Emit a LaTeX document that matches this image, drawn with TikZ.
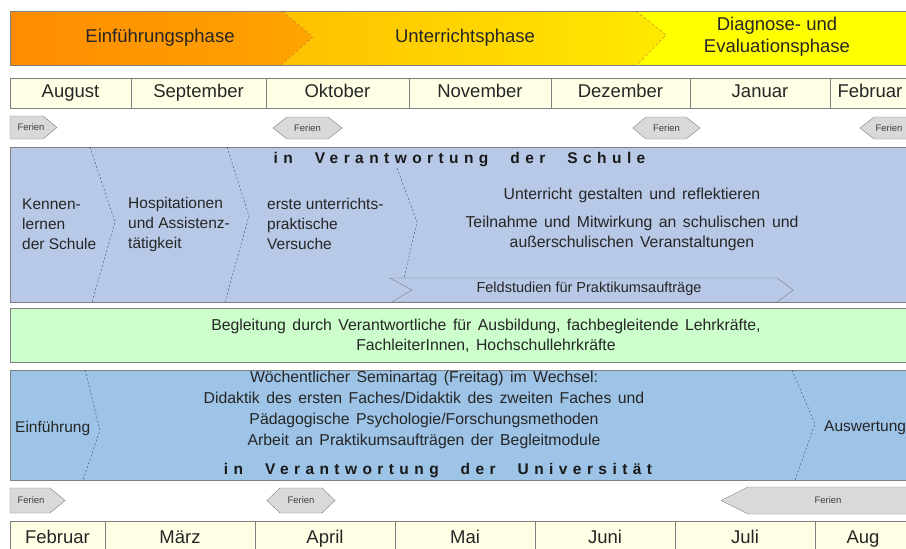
\documentclass[tikz,border=0pt]{standalone}
\usepackage{fontspec}
\setmainfont{Liberation Sans}
\newfontfamily\spacedfont[LetterSpace=35]{Liberation Sans}
\newcommand\widespacing{\spaceskip=6.5pt plus 2pt\relax}
\definecolor{monthfill}{HTML}{FFFFE6}
\definecolor{framegray}{HTML}{7F7F7F}
\definecolor{schoolblue}{HTML}{B7C9E6}
\definecolor{uniblue}{HTML}{9DC3E6}
\definecolor{guidegreen}{HTML}{CCFFCC}
\definecolor{tagfill}{HTML}{D9D9D9}
\definecolor{inktext}{HTML}{262626}
\definecolor{phaseA}{HTML}{FF8C00}
\definecolor{phaseB}{HTML}{FFA400}
\definecolor{phaseC}{HTML}{FFC000}
\definecolor{phaseM}{HTML}{FFB600}
\definecolor{phaseE}{HTML}{FFEA00}
\definecolor{phaseD}{HTML}{FFFF00}
\definecolor{chevbrown}{HTML}{B87818}
\definecolor{chevblue}{HTML}{3F4A66}
\begin{document}
\begin{tikzpicture}[x=1pt,y=-1pt,
	monthcell/.style={ draw=framegray, fill=monthfill, inner sep=0pt, text height=13.5pt, text depth=4pt, text=inktext, font=\fontsize{18.5}{22}\selectfont },
	phasetext/.style={ inner sep=0pt, text=inktext, font=\fontsize{18.5}{22}\selectfont },
	blocktext/.style={ inner sep=0pt, text=inktext, font=\fontsize{15.5}{20}\selectfont },
	widetext/.style={ inner sep=0pt, text=inktext, font=\fontsize{15.8}{20}\selectfont\widespacing },
	fieldtext/.style={ inner sep=0pt, text=inktext, font=\fontsize{14.5}{16}\selectfont },
	spacedtitle/.style={ inner sep=0pt, text=black!90, font=\fontsize{15.5}{17}\spacedfont\bfseries },
	tagshape/.style={ draw=framegray, fill=tagfill, thin },
	tagtext/.style={ inner sep=0pt, text=black!75, font=\fontsize{9.5}{11}\selectfont },
	phasedash/.style={ draw=chevbrown, thin, dash pattern=on 3pt off 2pt },
	chevdash/.style={ draw=chevblue, thin, dash pattern=on 2pt off 2pt }
]
\useasboundingbox (0,0) rectangle (906,549);

\shade[left color=phaseA, right color=phaseB] (10,11) -- (282,11) -- (313,37) -- (281,65) -- (10,65) -- cycle;
\shade[left color=phaseC, middle color=phaseM, right color=phaseE] (282,11) -- (636,11) -- (666,35) -- (637,65) -- (281,65) -- (313,37) -- cycle;
\fill[phaseD] (636,11) -- (920,11) -- (920,65) -- (637,65) -- (666,35) -- cycle;
\draw[framegray] (920,11) -- (10,11) -- (10,65) -- (920,65);
\draw[phasedash] (282,11) -- (313,37) -- (281,65);
\draw[phasedash] (636,11) -- (666,35) -- (637,65);
\node at (160,38) (einf) [phasetext] {Einführungsphase};
\node at (465,38) (unterr) [phasetext] {Unterrichtsphase};
\node at (777,37) (diag) [phasetext, align=center] {Diagnose- und\\Evaluationsphase};

\node at (70.5,93) (aug) [monthcell, minimum width=121, minimum height=30] {August};
\node at (198.5,93) (sep) [monthcell, minimum width=135, minimum height=30] {September};
\node at (337.5,93) (okt) [monthcell, minimum width=143, minimum height=30] {Oktober};
\node at (480,93) (nov) [monthcell, minimum width=142, minimum height=30] {November};
\node at (620.5,93) (dez) [monthcell, minimum width=139, minimum height=30] {Dezember};
\node at (760,93) (jan) [monthcell, minimum width=140, minimum height=30] {Januar};
\node at (870,93) (feb) [monthcell, minimum width=80, minimum height=30] {Februar};

\draw[tagshape] (10,116) -- (43,116) -- (57,127.5) -- (43,139) -- (10,139) -- cycle;
\node at (31,127.5) (ferA) [tagtext] {Ferien};
\draw[tagshape] (273,128) -- (287,117) -- (328,117) -- (342,128) -- (328,139) -- (287,139) -- cycle;
\node at (307.5,128) (ferB) [tagtext] {Ferien};
\draw[tagshape] (633,128) -- (646,117) -- (686,117) -- (700,128) -- (686,139) -- (646,139) -- cycle;
\node at (666.5,128) (ferC) [tagtext] {Ferien};
\draw[tagshape] (860,128) -- (874,117) -- (920,117) -- (934,128) -- (920,139) -- (874,139) -- cycle;
\node at (889,128) (ferD) [tagtext] {Ferien};

\draw[framegray, fill=schoolblue] (10,147) rectangle (920,302);
\draw[chevdash] (90,147) -- (115,222) -- (92,302);
\draw[chevdash] (227,147) -- (249,216) -- (225,302);
\draw[chevdash] (397,168) -- (417,222) -- (404,278);
\draw[framegray] (390,278) -- (777,278) -- (793,290) -- (777,302) -- (392,302) -- (412,290) -- cycle;
\node at (459.5,160) (schule) [spacedtitle] {in\hspace{22pt}Verantwortung\hspace{22pt}der\hspace{22pt}Schule};
\node at (22,224) (kennen) [blocktext, anchor=west, align=left] {Kennen-\\lernen\\der Schule};
\node at (128,224) (hosp) [blocktext, anchor=west, align=left] {Hospitationen\\und Assistenz-\\tätigkeit};
\node at (267,224) (versuch) [blocktext, anchor=west, align=left] {erste unterrichts-\\praktische\\Versuche};
\node at (632,195) (gestalt) [widetext] {Unterricht gestalten und reflektieren};
\node at (632,233) (teilnahme) [widetext, align=center] {Teilnahme und Mitwirkung an schulischen und\\außerschulischen Veranstaltungen};
\node at (589,289) (feld) [fieldtext] {Feldstudien für Praktikumsaufträge};

\draw[framegray, fill=guidegreen] (10,308) rectangle (920,362);
\node at (486,336) (begleit) [widetext, align=center] {Begleitung durch Verantwortliche für Ausbildung, fachbegleitende Lehrkräfte,\\FachleiterInnen, Hochschullehrkräfte};

\draw[framegray, fill=uniblue] (10,370) rectangle (920,480);
\draw[chevdash] (85,370) -- (100,430) -- (83,480);
\draw[chevdash] (792,370) -- (815,424) -- (795,480);
\node at (15,428) (einfuehr) [blocktext, anchor=west] {Einführung};
\node at (824,428) (auswert) [blocktext, anchor=west] {Auswertung};
\node at (424,410) (seminar) [widetext, align=center, font=\fontsize{15.8}{21}\selectfont\widespacing] {Wöchentlicher Seminartag (Freitag) im Wechsel:\\Didaktik des ersten Faches/Didaktik des zweiten Faches und\\Pädagogische Psychologie/Forschungsmethoden\\Arbeit an Praktikumsaufträgen der Begleitmodule};
\node at (438,471) (uni) [spacedtitle] {in\hspace{22pt}Verantwortung\hspace{22pt}der\hspace{22pt}Universität};

\draw[tagshape] (10,488) -- (50,488) -- (65,500.5) -- (50,513) -- (10,513) -- cycle;
\node at (31,500.5) (ferE) [tagtext] {Ferien};
\draw[tagshape] (267,500.5) -- (280,488) -- (322,488) -- (335,500.5) -- (322,513) -- (280,513) -- cycle;
\node at (301,500.5) (ferF) [tagtext] {Ferien};
\draw[tagshape] (721,500.5) -- (748,487) -- (920,487) -- (920,514) -- (748,514) -- cycle;
\node at (828,500.5) (ferG) [tagtext] {Ferien};

\node at (57.5,539) (febB) [monthcell, minimum width=95, minimum height=36] {Februar};
\node at (180,539) (mrz) [monthcell, minimum width=150, minimum height=36] {März};
\node at (325,539) (apr) [monthcell, minimum width=140, minimum height=36] {April};
\node at (465,539) (mai) [monthcell, minimum width=140, minimum height=36] {Mai};
\node at (605,539) (jun) [monthcell, minimum width=140, minimum height=36] {Juni};
\node at (745,539) (jul) [monthcell, minimum width=140, minimum height=36] {Juli};
\node at (863,539) (augB) [monthcell, minimum width=96, minimum height=36] {Aug};

\end{tikzpicture}
\end{document}
